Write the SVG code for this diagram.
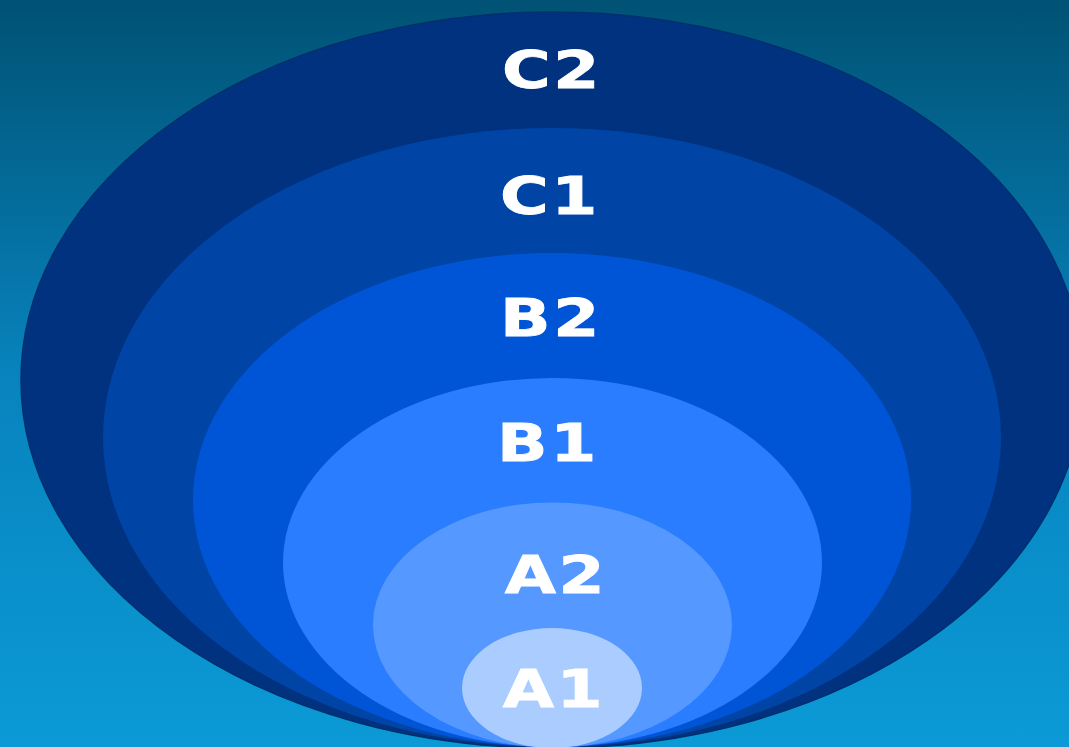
<svg xmlns="http://www.w3.org/2000/svg" width="1069" height="747" viewBox="0 0 1069 747">
<defs>
<linearGradient id="bg" x1="0" y1="0" x2="0" y2="1">
<stop offset="0" stop-color="#005274"/>
<stop offset="0.5" stop-color="#0883bd"/>
<stop offset="1" stop-color="#0b9ad6"/>
</linearGradient>
</defs>
<style>
.lbl{font-family:"DejaVu Sans","Verdana",sans-serif;font-weight:bold;font-size:51px;fill:#ffffff;stroke:#ffffff;stroke-width:0.8px;text-anchor:middle;letter-spacing:2px}
</style>
<rect x="0" y="0" width="1069" height="747" fill="url(#bg)"/>
<g id="C2">
<ellipse cx="552" cy="380" rx="531" ry="368" fill="#00327f" stroke="#002f6e" stroke-width="1.5"/>
<text class="lbl" transform="translate(552,88) scale(1.3,1)">C2</text>
</g>
<g id="C1">
<ellipse cx="552" cy="437.5" rx="449" ry="309.5" fill="#0044a6"/>
<text class="lbl" transform="translate(550,214) scale(1.3,1)">C1</text>
</g>
<g id="B2">
<ellipse cx="552" cy="500" rx="359" ry="247" fill="#0055d6"/>
<text class="lbl" transform="translate(551,336) scale(1.3,1)">B2</text>
</g>
<g id="B1">
<ellipse cx="552.5" cy="562.5" rx="269.5" ry="184.5" fill="#2a7dff"/>
<text class="lbl" transform="translate(548,461) scale(1.3,1)">B1</text>
</g>
<g id="A2">
<ellipse cx="552.5" cy="625" rx="179.5" ry="122.5" fill="#5598ff"/>
<text class="lbl" transform="translate(556,593) scale(1.3,1)">A2</text>
</g>
<g id="A1">
<ellipse cx="552" cy="688" rx="90" ry="60" fill="#aaccff"/>
<text class="lbl" transform="translate(554,707) scale(1.3,1)">A1</text>
</g>
<g id="connectors"></g>
</svg>
